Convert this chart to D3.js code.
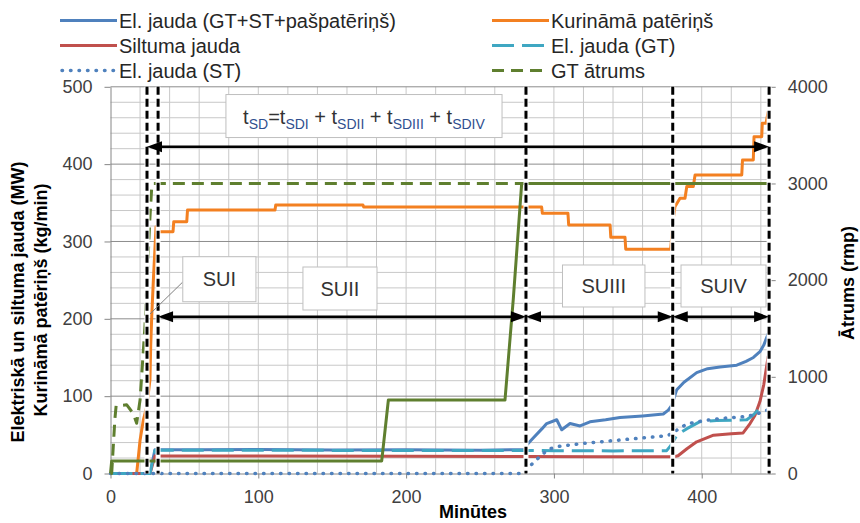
<!DOCTYPE html>
<html>
<head>
<meta charset="utf-8">
<script src="https://cdn.jsdelivr.net/npm/d3@7"></script>
<style>
  body { margin: 0; background: #fff; }
  svg { font-family: "Liberation Sans", Arial, sans-serif; }
</style>
</head>
<body>
<svg width="860" height="523"></svg>
<script>
// [minute, value] pairs
let elTotal = [[0,0],[26.7,0],[30.1,30.8],[60,30.6],[100,31],[150,30.5],[200,30.8],[250,30.2],[281.1,30.8],[281.6,36.8],[286,46],[292,58],[295.1,64.6],[301.9,69.5],[305.3,56.5],[310.9,64.6],[317.7,61.5],[324.4,66.8],[335,69.5],[344.7,72.4],[360,74.5],[374,77],[377.4,82],[379.7,88],[383,108],[388,118],[396.6,130.5],[404,135.5],[412.4,137.7],[423.7,140],[430,145],[435,150],[439.4,157.5],[442,166],[445,181]];
let fuel = [[0,0],[17.7,0],[20,43],[22.2,69],[24.5,86],[26.7,121],[27.2,165],[27.9,203],[29,250],[30.8,319],[31.3,312.6],[42.3,312.6],[42.8,325.6],[51.6,325.6],[52.1,340.7],[111.3,340.7],[111.8,347.2],[170.8,347.2],[171.3,344.5],[291.7,344.5],[292.2,336.4],[309.5,336.4],[310,321.3],[338,321.3],[338.5,305.4],[348.1,305.4],[348.6,290],[379,290],[380.8,330],[381.9,345],[385.3,356],[388.7,356],[389.9,371],[394.3,371],[395.5,386],[427.1,386],[427.6,405.4],[434.9,405.4],[435.4,435.5],[440.6,435.5],[441,452.8],[443.5,452.8],[445,468]];
let heat = [[0,0],[26.7,0],[30.1,22.5],[100,22.6],[200,22.3],[281,22],[330,21.8],[380.8,21.5],[384,23],[390,32],[396.6,41],[408,49.5],[420,51.5],[428,52.5],[432.7,64.6],[436,75],[439.4,93],[442,115],[445,152]];
let elGT = [[0,0],[26.7,0],[30.1,30],[100,30],[200,29.8],[281,29.8],[300,29.5],[340,29.2],[376.3,29.5],[379,36],[383.3,49.8],[390,58],[398.8,67],[410,68.5],[430.5,69.5],[435,76],[440.6,87]];
let elST = [[0,0],[279,0],[282.7,6.7],[286,14],[291.7,23.9],[296,31],[301.9,34.7],[319.9,39],[344.7,43.3],[374,48.5],[378,50],[383.3,56.2],[389.9,64],[401,68.3],[414.6,71.4],[428.1,73.4],[436,76],[445,82.5]];
let gtSpeed = [[0,0],[0.8,0],[3,570],[3.8,700],[11,710],[15.4,620],[17.7,520],[20,760],[23.3,1520],[26.7,2650],[27.9,2965],[29,3000],[445,3000]];
let stSpeed = [[0,0],[0.8,130],[183.5,130],[188,760],[266.9,760],[272.5,1800],[278.2,3000],[445,3000]];

let xTicks = [0, 100, 200, 300, 400];
let yTicks = [0, 100, 200, 300, 400, 500];
let rpmTicks = [0, 1000, 2000, 3000, 4000];

// stage boundaries (minutes) and labels
let bounds = [24.7, 32.2, 281.1, 380.4, 445.6];
let stages = ['SUI', 'SUII', 'SUIII', 'SUIV'];

let series = [
    {name: 'El. jauda (GT+ST+pašpatēriņš)', data: elTotal, color: '#4f81bd', dash: null, axis: 'l'},
    {name: 'Kurināmā patēriņš', data: fuel, color: '#f38021', dash: null, axis: 'l'},
    {name: 'Siltuma jauda', data: heat, color: '#c0504d', dash: null, axis: 'l'},
    {name: 'El. jauda (GT)', data: elGT, color: '#3fa7c2', dash: '22,8', axis: 'l'},
    {name: 'El. jauda (ST)', data: elST, color: '#4f81bd', dash: '0.5,8', axis: 'l'},
    {name: 'GT ātrums', data: gtSpeed, color: '#5f7f2f', dash: '12,7', axis: 'r'}
];

let svg = d3.select('svg');

let x = d3.scaleLinear().domain([0, 446]).range([110.5, 769.7]);
let yL = d3.scaleLinear().domain([0, 500]).range([473.5, 86.8]);
let yR = d3.scaleLinear().domain([0, 4000]).range([473.5, 86.8]);

// gridlines
let grid = svg.append('g');
grid.selectAll('.vg')
    .data(d3.range(20, 441, 20))
    .enter().append('line')
        .attr('x1', d => x(d)).attr('x2', d => x(d))
        .attr('y1', yL(0)).attr('y2', yL(500))
        .attr('stroke', '#c8c8c8');
grid.selectAll('.hg')
    .data(d3.range(20, 501, 20))
    .enter().append('line')
        .attr('x1', x(0)).attr('x2', x(446))
        .attr('y1', d => yL(d)).attr('y2', d => yL(d))
        .attr('stroke', d => d % 100 === 0 ? '#8c8c8c' : '#c8c8c8');

// axes
function styleAxis(g) {
    g.selectAll('path, line').attr('stroke', '#868686');
    g.selectAll('text').attr('fill', '#404040').style('font-size', '18px');
}
svg.append('g')
    .attr('transform', `translate(0, ${yL(0)})`)
    .call(d3.axisBottom(x).tickValues(xTicks).tickSize(5).tickPadding(12).tickSizeOuter(0))
    .call(styleAxis);
svg.append('g')
    .attr('transform', `translate(${x(0)}, 0)`)
    .call(d3.axisLeft(yL).tickValues(yTicks).tickSize(6).tickPadding(12).tickSizeOuter(0))
    .call(styleAxis);
svg.append('g')
    .attr('transform', `translate(${x(446)}, 0)`)
    .call(d3.axisRight(yR).tickValues(rpmTicks).tickFormat(d3.format('d')).tickSize(6).tickPadding(12).tickSizeOuter(0))
    .call(styleAxis);

// series lines
let line = d3.line().x(d => x(d[0]));
function drawLine(s) {
    let yS = s.axis === 'r' ? yR : yL;
    svg.append('path')
        .datum(s.data)
        .attr('d', line.y(d => yS(d[1])))
        .attr('fill', 'none')
        .attr('stroke', s.color)
        .attr('stroke-width', s.dash === '0.5,8' ? 3.5 : 3)
        .attr('stroke-linecap', s.dash === '0.5,8' ? 'round' : 'butt')
        .attr('stroke-linejoin', 'round')
        .attr('stroke-dasharray', s.dash);
}
series.forEach(drawLine);
drawLine({data: stSpeed, color: '#5f7f2f', dash: null, axis: 'r'});

// stage boundaries
bounds.forEach(b => {
    svg.append('line')
        .attr('x1', x(b)).attr('x2', x(b))
        .attr('y1', yL(500)).attr('y2', yL(0))
        .attr('stroke', '#fff').attr('stroke-width', 5);
    svg.append('line')
        .attr('x1', x(b)).attr('x2', x(b))
        .attr('y1', yL(500)).attr('y2', yL(0))
        .attr('stroke', '#000').attr('stroke-width', 3)
        .attr('stroke-dasharray', '8,4');
});

// double-headed arrows
function arrow(a, b, level) {
    let x1 = x(a), x2 = x(b), yy = yL(level);
    svg.append('line')
        .attr('x1', x1 + 8).attr('x2', x2 - 8)
        .attr('y1', yy).attr('y2', yy)
        .attr('stroke', '#000').attr('stroke-width', 2.5);
    svg.append('path')
        .attr('d', `M${x1},${yy}L${x1 + 15},${yy - 5.5}L${x1 + 15},${yy + 5.5}Z`)
        .attr('fill', '#000');
    svg.append('path')
        .attr('d', `M${x2},${yy}L${x2 - 15},${yy - 5.5}L${x2 - 15},${yy + 5.5}Z`)
        .attr('fill', '#000');
}
arrow(bounds[0], bounds[4], 422.6);
for (let i = 1; i < bounds.length - 1; i++) arrow(bounds[i], bounds[i + 1], 202.7);

// label boxes [x0, x1, yTop, yBottom] in chart units
let boxes = [[48.9, 98.4, 280.3, 222.1], [130.2, 180.3, 267, 211.4], [305.8, 361.6, 269.6, 215.3], [386, 443.5, 269.6, 215.3]];

svg.append('line')
    .attr('x1', x(48.9)).attr('y1', yL(247.6))
    .attr('x2', x(26.7)).attr('y2', yL(206.2))
    .attr('stroke', '#7f7f7f').attr('stroke-width', 1);

boxes.forEach((bx, i) => {
    svg.append('rect')
        .attr('x', x(bx[0])).attr('y', yL(bx[2]))
        .attr('width', x(bx[1]) - x(bx[0])).attr('height', yL(bx[3]) - yL(bx[2]))
        .attr('fill', '#fff').attr('stroke', '#bfbfbf');
    svg.append('text')
        .attr('x', (x(bx[0]) + x(bx[1])) / 2)
        .attr('y', (yL(bx[2]) + yL(bx[3])) / 2)
        .attr('dy', '0.36em')
        .style('text-anchor', 'middle')
        .style('font-size', '20px')
        .attr('fill', '#333')
        .text(stages[i]);
});

// formula box
svg.append('rect')
    .attr('x', x(78.1)).attr('y', yL(490))
    .attr('width', x(264.9) - x(78.1)).attr('height', yL(434.4) - yL(490))
    .attr('fill', '#fff').attr('stroke', '#bfbfbf');
let formula = svg.append('text')
    .attr('x', (x(78.1) + x(264.9)) / 2)
    .attr('y', 124)
    .style('text-anchor', 'middle')
    .style('font-size', '20px')
    .attr('fill', '#333');
let parts = [['t', ''], ['SD', 's'], ['=t', ''], ['SDI', 's'], [' + t', ''], ['SDII', 's'], [' + t', ''], ['SDIII', 's'], [' + t', ''], ['SDIV', 's']];
parts.forEach((p, i) => {
    let prevSub = i > 0 && parts[i - 1][1] === 's';
    formula.append('tspan')
        .attr('dy', p[1] === 's' ? 5 : (prevSub ? -5 : 0))
        .style('font-size', p[1] === 's' ? '14px' : '20px')
        .attr('fill', p[1] === 's' ? '#2f4f8f' : '#333')
        .text(p[0]);
});

// axis titles
svg.append('text')
    .attr('transform', 'translate(18, 302) rotate(-90)')
    .attr('dy', '0.36em')
    .style('text-anchor', 'middle')
    .style('font-size', '18px').style('font-weight', 'bold')
    .text('Elektriskā un siltuma jauda  (MW)');
svg.append('text')
    .attr('transform', 'translate(41, 300) rotate(-90)')
    .attr('dy', '0.36em')
    .style('text-anchor', 'middle')
    .style('font-size', '18px').style('font-weight', 'bold')
    .text('Kurināmā patēriņš (kg/min)');
svg.append('text')
    .attr('transform', 'translate(848, 283) rotate(-90)')
    .attr('dy', '0.36em')
    .style('text-anchor', 'middle')
    .style('font-size', '18px').style('font-weight', 'bold')
    .text('Ātrums (rmp)');
svg.append('text')
    .attr('x', 473)
    .attr('y', 518)
    .style('text-anchor', 'middle')
    .style('font-size', '18px').style('font-weight', 'bold')
    .text('Minūtes');

// legend, two columns in series order
let legend = svg.append('g');
series.forEach((s, i) => {
    let col = i % 2, row = Math.floor(i / 2);
    let lx = col === 0 ? 60 : 492;
    let ly = 20.5 + row * 25;
    legend.append('line')
        .attr('x1', s.dash === '0.5,8' ? lx + 2 : lx).attr('x2', lx + 57)
        .attr('y1', ly).attr('y2', ly)
        .attr('stroke', s.color)
        .attr('stroke-width', s.dash === '0.5,8' ? 3.5 : 3)
        .attr('stroke-linecap', s.dash === '0.5,8' ? 'round' : 'butt')
        .attr('stroke-dasharray', s.dash);
    legend.append('text')
        .attr('x', lx + 59)
        .attr('y', ly)
        .attr('dy', '0.36em')
        .style('font-size', '20px')
        .attr('fill', '#262626')
        .text(s.name);
});
</script>
</body>
</html>
